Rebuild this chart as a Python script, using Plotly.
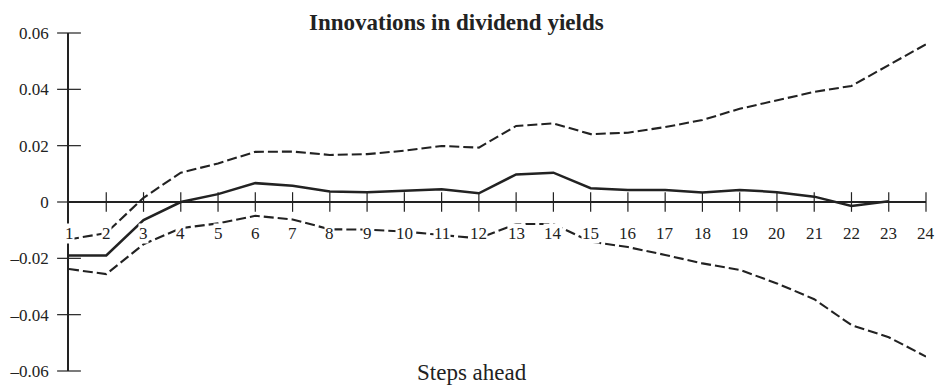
import plotly.graph_objects as go

steps = list(range(1, 25))
point = [-0.019, -0.019, -0.0064, 0.0, 0.0028, 0.0067, 0.0058, 0.0037, 0.0035, 0.004,
         0.0045, 0.0031, 0.0098, 0.0104, 0.0049, 0.0043, 0.0043, 0.0034, 0.0043, 0.0035,
         0.0019, -0.0014, 0.0003, None]
upper = [-0.0133, -0.011, 0.0015, 0.0104, 0.0137, 0.0178, 0.0179, 0.0167, 0.017, 0.0182,
         0.0199, 0.0193, 0.027, 0.0279, 0.0241, 0.0246, 0.0266, 0.0291, 0.0331, 0.0361,
         0.0391, 0.0412, 0.0486, 0.056]
lower = [-0.0238, -0.0256, -0.015, -0.0093, -0.0076, -0.0049, -0.0062, -0.0097, -0.0098, -0.0105,
         -0.0117, -0.0129, -0.0078, -0.0078, -0.0141, -0.016, -0.0188, -0.0218, -0.0241, -0.0289,
         -0.0345, -0.0437, -0.048, -0.0549]
ytick_vals = [-0.06, -0.04, -0.02, 0, 0.02, 0.04, 0.06]
ytick_text = ["\u20130.06", "\u20130.04", "\u20130.02", "0", "0.02", "0.04", "0.06"]
title_text = "Innovations in dividend yields"
xlabel_text = "Steps ahead"

FONT = "Liberation Serif, Times New Roman, serif"
INK = "#222222"

fig = go.Figure()
fig.add_trace(go.Scatter(x=steps, y=upper, mode="lines",
                         line=dict(color=INK, width=2.1, dash="10px,4px"), showlegend=False))
fig.add_trace(go.Scatter(x=steps, y=lower, mode="lines",
                         line=dict(color=INK, width=2.1, dash="10px,4px"), showlegend=False))
fig.add_trace(go.Scatter(x=steps, y=point, mode="lines",
                         line=dict(color=INK, width=2.5), showlegend=False))
# crossing tick marks on the x axis (at y = 0)
fig.add_trace(go.Scatter(x=steps[1:], y=[0] * (len(steps) - 1), mode="markers",
                         marker=dict(symbol="line-ns", size=14, line=dict(color=INK, width=1.2)),
                         cliponaxis=False, showlegend=False, hoverinfo="skip"))
# crossing tick marks on the y axis (at x = 1)
fig.add_trace(go.Scatter(x=[steps[0]] * len(ytick_vals), y=ytick_vals, mode="markers",
                         marker=dict(symbol="line-ew", size=17, line=dict(color=INK, width=1.2)),
                         cliponaxis=False, showlegend=False, hoverinfo="skip"))

annotations = []
for s in steps:
    annotations.append(dict(x=s, y=0, xref="x", yref="y", text=str(s), showarrow=False,
                            yshift=-31, yanchor="middle", xanchor="center",
                            bgcolor="white", borderpad=0,
                            font=dict(family=FONT, size=17, color=INK)))
annotations.append(dict(x=0.4527, y=1.0325, xref="paper", yref="paper", text="<b>" + title_text + "</b>",
                        showarrow=False, xanchor="center", yanchor="middle",
                        font=dict(family=FONT, size=23, color=INK)))
annotations.append(dict(x=0.4702, y=-0.003, xref="paper", yref="paper", text=xlabel_text,
                        showarrow=False, xanchor="center", yanchor="middle",
                        font=dict(family=FONT, size=23, color=INK)))

fig.update_layout(
    width=947, height=385,
    margin=dict(l=69, r=21, t=33, b=14),
    paper_bgcolor="white", plot_bgcolor="white",
    annotations=annotations,
    xaxis=dict(range=[1, 24], showgrid=False, zeroline=False, showline=False,
               showticklabels=False, ticks="", automargin=False),
    yaxis=dict(range=[-0.06, 0.06], showgrid=False, zeroline=True, zerolinecolor=INK,
               zerolinewidth=1.5, showline=True, linecolor=INK, linewidth=1.5, automargin=False,
               tickvals=ytick_vals, ticktext=ytick_text, ticks="outside", ticklen=15,
               tickcolor="rgba(0,0,0,0)", tickfont=dict(family=FONT, size=17, color=INK)),
)

fig.write_html("out.html", config={"displayModeBar": False},
               post_script="document.body.style.margin='0';document.body.style.overflow='hidden';")
